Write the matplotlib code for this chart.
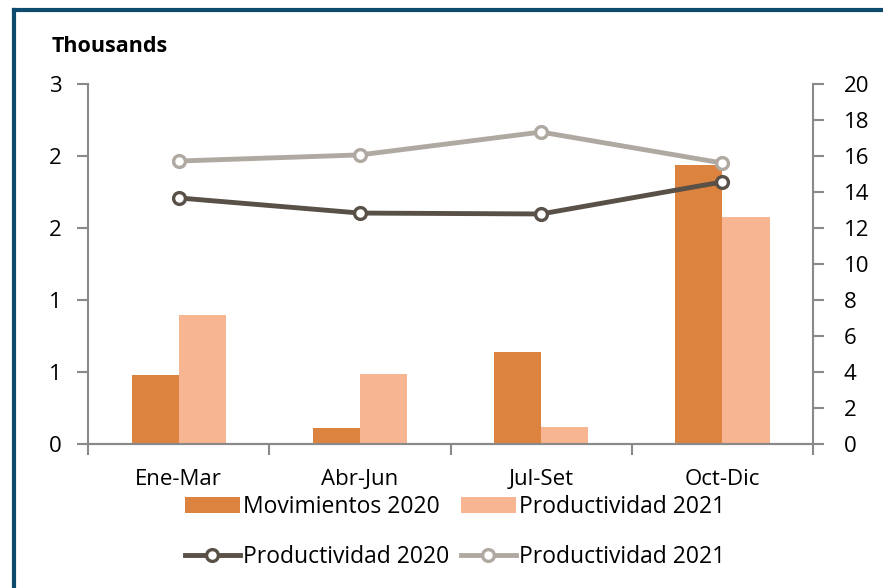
import numpy as np
import matplotlib.pyplot as plt
from matplotlib.lines import Line2D

plt.rcParams['font.family'] = ['Open Sans', 'DejaVu Sans']

quarters = ["Ene-Mar", "Abr-Jun", "Jul-Set", "Oct-Dic"]
mov_2020 = [0.479, 0.111, 0.639, 1.94]        # thousands
prod_2021_bar = [0.896, 0.486, 0.118, 1.576]  # thousands
prod_2020 = [13.67, 12.83, 12.78, 14.56]
prod_2021 = [15.72, 16.06, 17.33, 15.61]

left_ticks = [0, 0.5, 1.0, 1.5, 2.0, 2.5]
left_labels = ["0", "1", "1", "2", "2", "3"]

c_dark_bar = "#dc843f"
c_light_bar = "#f8b591"
c_dark_line = "#595047"
c_light_line = "#afa9a1"
c_axis = "#898989"

fig = plt.figure(figsize=(8.83, 5.88), dpi=100)
ax = fig.add_axes([88 / 883, 1 - 444 / 588, 725 / 883, 360 / 588])
ax2 = ax.twinx()

x = np.arange(len(quarters))
w = 0.26
b1 = ax.bar(x - w / 2, mov_2020, w, color=c_dark_bar, label="Movimientos 2020", zorder=2)
b2 = ax.bar(x + w / 2, prod_2021_bar, w, color=c_light_bar, label="Productividad 2021", zorder=2)

l1, = ax2.plot(x, prod_2020, color=c_dark_line, lw=3.5, marker="o", ms=8.5,
               mfc="white", mec=c_dark_line, mew=2.4, label="Productividad 2020")
l2, = ax2.plot(x, prod_2021, color=c_light_line, lw=3.5, marker="o", ms=8.5,
               mfc="white", mec=c_light_line, mew=2.4, label="Productividad 2021")

ax.set_xlim(-0.5, 3.5)
ax.set_ylim(0, 2.5)
ax2.set_ylim(0, 20)
ax.set_yticks(left_ticks)
ax.set_yticklabels(left_labels)
ax2.set_yticks(range(0, 21, 2))

ax.set_xticks(x)
ax.set_xticklabels(quarters)
ax.set_xticks(np.arange(-0.5, 4.0, 1.0), minor=True)
ax.tick_params(axis="x", which="major", length=0, pad=18, labelsize=16)
ax.tick_params(axis="x", which="minor", length=8, color=c_axis, width=1.5)
ax.tick_params(axis="y", length=8, color=c_axis, width=1.5, labelsize=16, pad=11)
ax2.tick_params(axis="y", length=8, color=c_axis, width=1.5, labelsize=16, pad=14)

for a in (ax, ax2):
    for s in a.spines.values():
        s.set_visible(False)
    a.spines["bottom"].set_visible(True)
    a.spines["bottom"].set_color(c_axis)
    a.spines["bottom"].set_linewidth(1.5)
ax.spines["left"].set_visible(True)
ax.spines["left"].set_color(c_axis)
ax.spines["left"].set_linewidth(1.5)
ax2.spines["right"].set_visible(True)
ax2.spines["right"].set_color(c_axis)
ax2.spines["right"].set_linewidth(1.5)

ax.set_zorder(1)
ax2.set_zorder(2)
ax2.patch.set_visible(False)

fig.text(52 / 883, 1 - 46 / 588, "Thousands", fontsize=15.5, fontweight="bold",
         va="center", ha="left")

fig.legend(handles=[b1, l1, b2, l2],
           labels=["Movimientos 2020", "Productividad 2020",
                   "Productividad 2021", "Productividad 2021"],
           ncol=2, loc="center", bbox_to_anchor=(455 / 883, 1 - 532 / 588),
           frameon=False, fontsize=16.5, labelspacing=1.15, columnspacing=0.5,
           handlelength=2.4, handletextpad=0.15, borderpad=0)

# dark blue frame (left and top edges)
fig.add_artist(Line2D([14 / 883, 14 / 883], [0, 1 - 10 / 588], color="#0d4a6e",
                      lw=3, transform=fig.transFigure, solid_capstyle="projecting"))
fig.add_artist(Line2D([14 / 883, 1], [1 - 10 / 588, 1 - 10 / 588], color="#0d4a6e",
                      lw=3, transform=fig.transFigure, solid_capstyle="projecting"))

fig.savefig("out.png", dpi=100)
